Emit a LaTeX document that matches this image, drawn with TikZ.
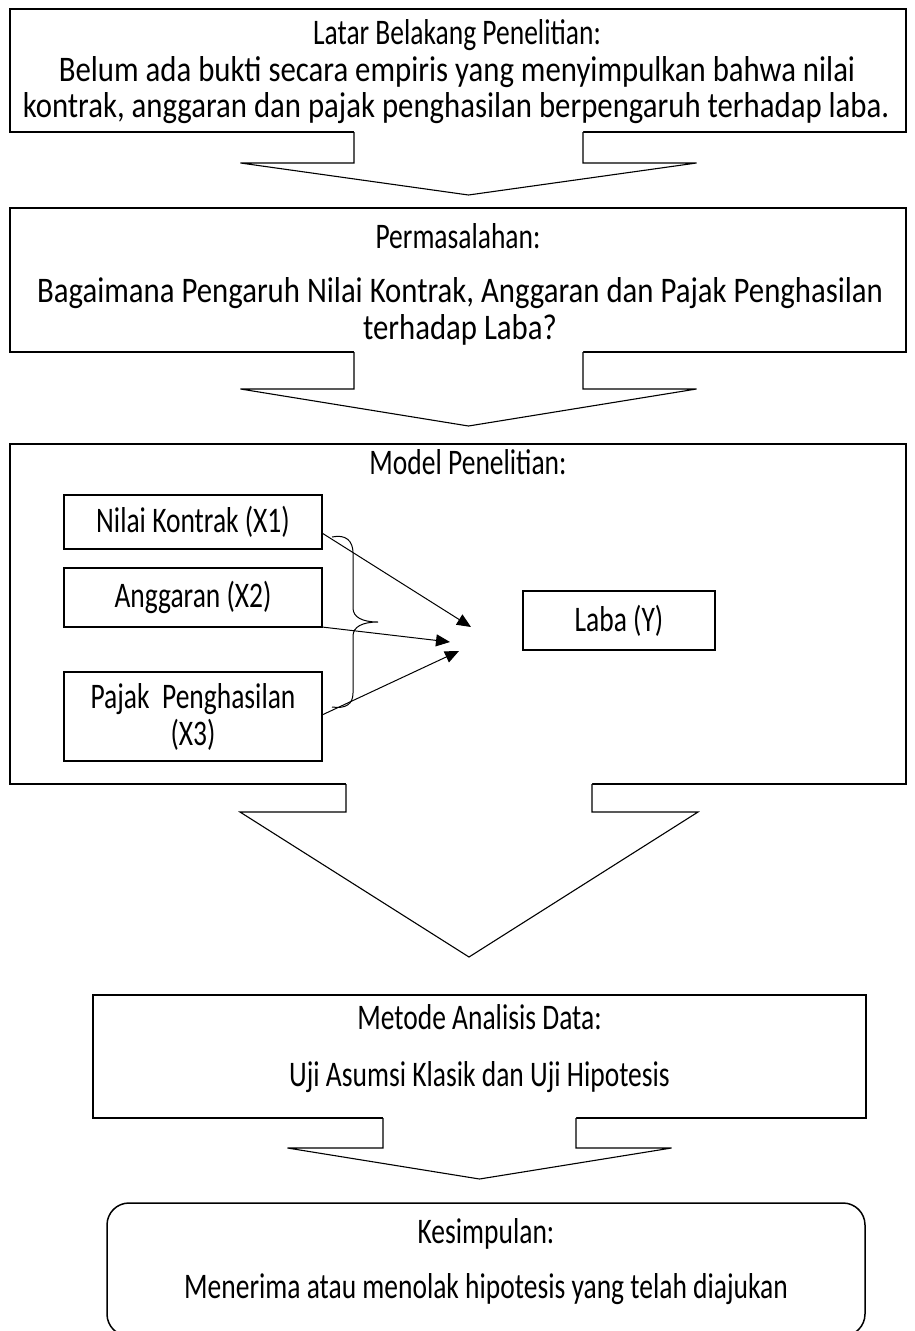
\documentclass[tikz,border=0pt]{standalone}
\usepackage{fontspec}
\setmainfont{Carlito}[FakeStretch=0.764]
\newfontfamily\widebody{Carlito}[FakeStretch=0.855]
\usetikzlibrary{arrows.meta,calc}
\tikzset{
  bigbox/.style={draw,line width=1.5pt,rectangle,inner sep=0pt,outer sep=0pt},
  smallbox/.style={draw,line width=1.1pt,rectangle,inner sep=0pt,outer sep=0pt,align=center,
    font=\fontsize{36}{37}\selectfont},
  txt/.style={anchor=base,inner sep=0pt,font=\fontsize{36}{37}\selectfont},
  widetxt/.style={anchor=base,inner sep=0pt,font=\fontsize{36}{37}\widebody},
  barrow/.style={line width=1.1pt,line join=miter},
  conn/.style={line width=1pt,-{Triangle[length=14pt,width=12pt]}},
  bracestyle/.style={line width=1pt},
}
% block arrow: centre x, top y, shaft bottom y, tip y, shaft half width, head half width
\newcommand\blockarr[6]{%
  \fill[white] (#1-#5,#2-1.2) -- (#1-#5,#3) -- (#1-#6,#3) -- (#1,#4) -- (#1+#6,#3) -- (#1+#5,#3) -- (#1+#5,#2-1.2) -- cycle;
  \draw[barrow] (#1-#5,#2) -- (#1-#5,#3) -- (#1-#6,#3) -- (#1,#4) -- (#1+#6,#3) -- (#1+#5,#3) -- (#1+#5,#2);
}
\begin{document}
\begin{tikzpicture}[x=1pt,y=-1pt]
\useasboundingbox (0,0) rectangle (914,1331);
\fill[white] (0,0) rectangle (914,1331);

% Box 1
\node[bigbox,minimum width=896pt,minimum height=123pt] (b1) at (458,70.5) {};
\node[txt] (b1t1) at (457,44) {Latar Belakang Penelitian:};
\node[widetxt] (b1t2) at (457,81) {Belum ada bukti secara empiris yang menyimpulkan bahwa nilai};
\node[widetxt] (b1t3) at (456,117) {kontrak, anggaran dan pajak penghasilan berpengaruh terhadap laba.};

% Box 2
\node[bigbox,minimum width=896pt,minimum height=144pt] (b2) at (458,280) {};
\node[txt] (b2t1) at (458,248) {Permasalahan:};
\node[widetxt] (b2t2) at (460,302) {Bagaimana Pengaruh Nilai Kontrak, Anggaran dan Pajak Penghasilan};
\node[widetxt] (b2t3) at (460,339) {terhadap Laba?};

% Box 3
\node[bigbox,minimum width=896pt,minimum height=340pt] (b3) at (458,614) {};
\node[txt] (b3t1) at (468,474) {Model Penelitian:};
\node[smallbox,minimum width=258pt,minimum height=54pt] (nk) at (193,522) {Nilai Kontrak (X1)};
\node[smallbox,minimum width=258pt,minimum height=59pt] (ag) at (193,597.5) {Anggaran (X2)};
\node[smallbox,minimum width=258pt,minimum height=89pt] (pp) at (193,716.5) {Pajak\ \ Penghasilan\\(X3)};
\node[smallbox,minimum width=192pt,minimum height=59pt] (laba) at (619,620.5) {Laba (Y)};

\coordinate (t1) at (471,627);
\coordinate (t2) at (450,642);
\coordinate (t3) at (459,651);
\draw[conn] ($(nk.north east)+(0,38)$) -- (t1);
\draw[conn] (ag.south east) -- (t2);
\draw[conn] ($(pp.north east)+(0,43)$) -- (t3);

\draw[bracestyle] (332,537) .. controls (346,534) and (353,541) .. (353,553)
  -- (353,608) .. controls (353,617) and (362,622) .. (378,622)
  .. controls (362,622) and (353,627) .. (353,636)
  -- (353,693) .. controls (353,704) and (346,709) .. (332,707);

% Box 4
\node[bigbox,minimum width=773pt,minimum height=123pt] (b4) at (479.5,1056.5) {};
\node[txt] (b4t1) at (479.5,1029) {Metode Analisis Data:};
\node[txt] (b4t2) at (479.5,1086) {Uji Asumsi Klasik dan Uji Hipotesis};

% Box 5
\node[bigbox,rounded corners=22pt,minimum width=758pt,minimum height=133pt] (b5) at (486,1269.5) {};
\node[txt] (b5t1) at (486,1243) {Kesimpulan:};
\node[txt] (b5t2) at (486,1298) {Menerima atau menolak hipotesis yang telah diajukan};

% block arrows
\blockarr{468.5}{132}{163}{195}{114.5}{228}
\blockarr{468.5}{352}{389}{426}{114.5}{228}
\blockarr{469}{784}{812}{957}{123}{229}
\blockarr{479.5}{1118}{1148}{1179}{96.5}{192}
\end{tikzpicture}
\end{document}
